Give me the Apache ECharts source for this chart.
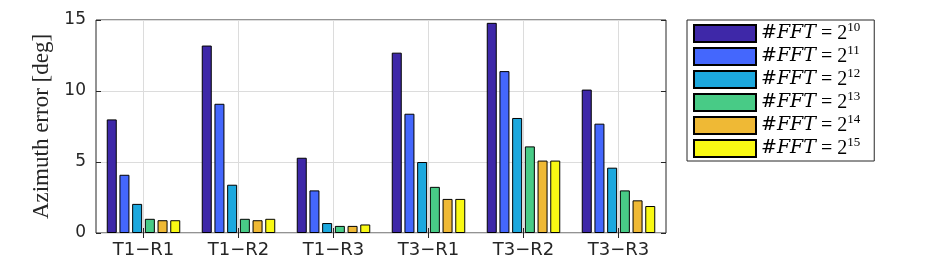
<!DOCTYPE html>
<html>
<head>
<meta charset="utf-8">
<script src="https://cdn.jsdelivr.net/npm/echarts@6/dist/echarts.min.js"></script>
<style>
  html, body { margin: 0; padding: 0; background: #fff; }
  #chart { width: 944px; height: 266px; }
</style>
</head>
<body>
<div id="chart"></div>
<script>
// categories on x
var categories = ['T1\u2212R1', 'T1\u2212R2', 'T1\u2212R3', 'T3\u2212R1', 'T3\u2212R2', 'T3\u2212R3']
// #FFT exponents, one series each
var exponents = ['10', '11', '12', '13', '14', '15']
var colors = ['#3E28A8', '#4467FD', '#1CA8DE', '#48CB86', '#EFB935', '#F9F914']
// azimuth error [deg] per category, one list per #FFT
var fft10 = [8.0, 13.2, 5.3, 12.7, 14.8, 10.1]
var fft11 = [4.1, 9.1, 3.0, 8.4, 11.4, 7.7]
var fft12 = [2.05, 3.4, 0.7, 5.0, 8.1, 4.6]
var fft13 = [1.0, 1.0, 0.5, 3.25, 6.1, 3.0]
var fft14 = [0.9, 0.9, 0.5, 2.4, 5.1, 2.3]
var fft15 = [0.9, 1.0, 0.6, 2.4, 5.1, 1.9]
var yTicks = [0, 5, 10, 15]

var values = [fft10, fft11, fft12, fft13, fft14, fft15]
var textColor = '#262626'
var sansFont = 'DejaVu Sans'

var series = values.map(function (data, i) {
  return {
    name: '#FFT = 2^' + exponents[i],
    type: 'bar',
    data: data,
    barWidth: 10,
    barGap: '27%',
    itemStyle: { color: colors[i], borderColor: '#000', borderWidth: 1 },
    emphasis: { disabled: true }
  }
})

var catAxis = {
  type: 'category',
  data: categories,
  boundaryGap: true,
  axisLine: { show: false },
  axisTick: { show: true, inside: true, alignWithLabel: true, length: 5, lineStyle: { color: textColor } },
  splitLine: { show: true, alignWithLabel: true, lineStyle: { color: '#dcdcdc', width: 1 } }
}

var valAxis = {
  type: 'value',
  min: yTicks[0],
  max: yTicks[yTicks.length - 1],
  interval: 5,
  axisLine: { show: false },
  axisTick: { show: true, inside: true, length: 5, lineStyle: { color: textColor } }
}

var chart = echarts.init(document.getElementById('chart'))
chart.setOption({
  animation: false,
  grid: {
    left: 96, right: 278, top: 20, bottom: 33,
    show: true, borderColor: textColor, borderWidth: 1, backgroundColor: '#fff'
  },
  legend: {
    data: series.map(function (s) { return s.name }),
    orient: 'vertical',
    left: 687,
    top: 20,
    padding: [1, 14, 0, 6],
    borderColor: textColor,
    borderWidth: 1,
    itemWidth: 62,
    itemHeight: 17,
    itemGap: -2,
    icon: 'rect',
    selectedMode: false,
    formatter: function (name) {
      var e = name.split('^')[1]
      return '{i|#FFT}{n| = 2}{s|' + e + '}'
    },
    textStyle: {
      lineHeight: 17,
      rich: {
        i: { fontFamily: 'DejaVu Serif', fontStyle: 'italic', fontSize: 19, lineHeight: 17, color: '#000' },
        n: { fontFamily: 'Liberation Serif', fontSize: 20, lineHeight: 17, color: '#000' },
        s: { fontFamily: 'Liberation Serif', fontSize: 13, lineHeight: 17, padding: [0, 0, 12, 0], color: '#000' }
      }
    }
  },
  xAxis: [
    Object.assign({}, catAxis, {
      position: 'bottom',
      axisLabel: { color: textColor, fontFamily: sansFont, fontSize: 18, margin: 8 }
    }),
    Object.assign({}, catAxis, {
      position: 'top',
      axisLabel: { show: false },
      splitLine: { show: false }
    })
  ],
  yAxis: [
    Object.assign({}, valAxis, {
      position: 'left',
      name: 'Azimuth error [deg]',
      nameLocation: 'middle',
      nameGap: 41,
      nameTextStyle: { fontFamily: 'Liberation Serif', fontSize: 23, color: textColor },
      axisLabel: { color: textColor, fontFamily: sansFont, fontSize: 17, margin: 10 },
      splitLine: { show: true, lineStyle: { color: '#dcdcdc', width: 1 } }
    }),
    Object.assign({}, valAxis, {
      position: 'right',
      axisLabel: { show: false },
      splitLine: { show: false }
    })
  ],
  series: series
})
</script>
</body>
</html>
